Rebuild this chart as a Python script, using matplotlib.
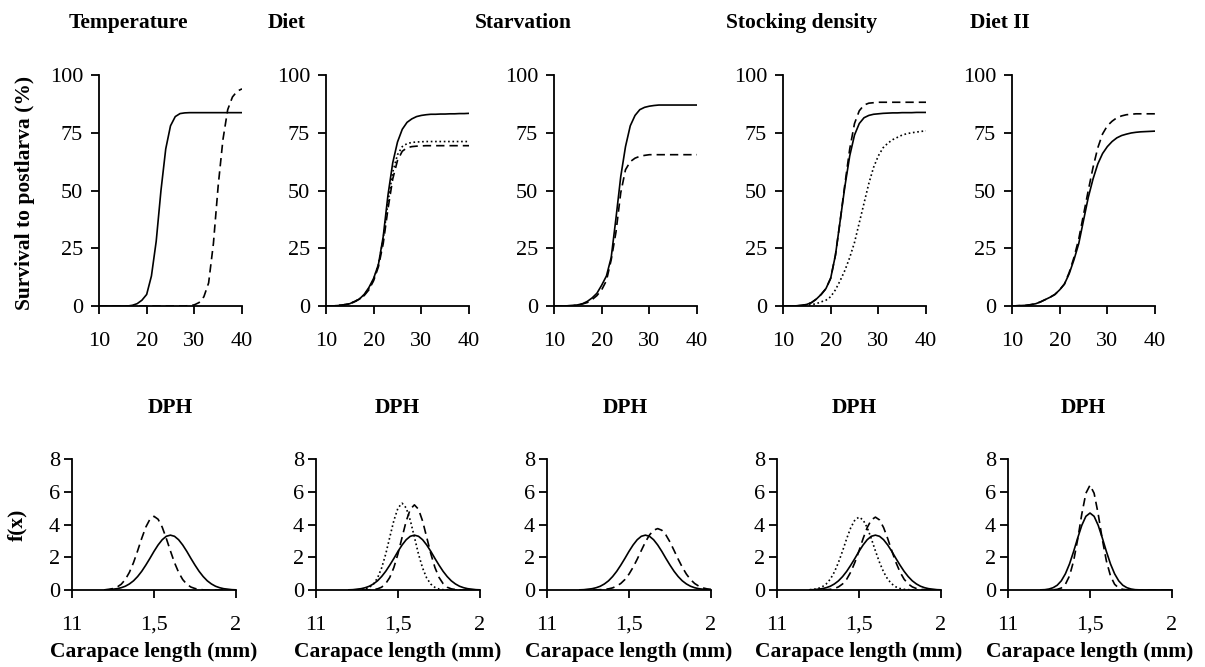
import matplotlib
matplotlib.use("Agg")
import matplotlib.pyplot as plt

plt.rcParams["font.family"] = ["Liberation Serif", "DejaVu Serif"]

FIG_W, FIG_H = 1205, 667
FONT_TICK = 16
FONT_LABEL = 15.5

panel_titles = ["Temperature", "Diet", "Starvation", "Stocking density", "Diet II"]

# --- survival to postlarva (%) vs days post hatch ---
dph = list(range(10, 41))

temp_solid = [0, 0, 0, 0, 0, 0, 0, 0.3, 1, 2.5, 5, 13, 28, 50, 68, 78, 82, 83.3, 83.6,
              83.7, 83.7, 83.7, 83.7, 83.7, 83.7, 83.7, 83.7, 83.7, 83.7, 83.7, 83.7]
temp_dash = [0, 0, 0, 0, 0, 0, 0, 0, 0, 0, 0, 0, 0, 0, 0, 0, 0, 0, 0,
             0.2, 0.5, 1.5, 4, 10, 27, 52, 72, 85, 90.5, 93, 94]

diet_solid = [0, 0, 0.1, 0.3, 0.6, 1, 2, 3, 5, 8, 12, 18, 30, 48, 62, 71, 76.5, 79.5, 81,
              82, 82.5, 82.8, 83, 83, 83.1, 83.1, 83.2, 83.2, 83.3, 83.3, 83.4]
diet_dash = [0, 0, 0.1, 0.3, 0.6, 1, 1.8, 3, 4.5, 7, 11, 17, 27, 42, 55, 63, 67, 68.5, 69,
             69.2, 69.3, 69.4, 69.4, 69.4, 69.4, 69.4, 69.4, 69.4, 69.4, 69.4, 69.4]
diet_dot = [0, 0, 0.1, 0.3, 0.6, 1, 1.9, 3, 4.8, 7.5, 11.5, 18, 29, 45, 58, 65.5, 69, 70.3,
            70.8, 71, 71.1, 71.2, 71.2, 71.2, 71.2, 71.2, 71.2, 71.2, 71.2, 71.2, 71.2]

starv_solid = [0, 0, 0, 0.1, 0.2, 0.5, 1, 2, 3.5, 5.5, 9, 13, 21, 38, 56, 69, 78, 82.5, 85,
               86, 86.5, 86.8, 87, 87, 87, 87, 87, 87, 87, 87, 87]
starv_dash = [0, 0, 0, 0.1, 0.2, 0.5, 0.9, 1.5, 2.8, 4.5, 7, 11, 20, 32, 49, 59, 62.5, 64,
              64.8, 65.2, 65.5, 65.5, 65.5, 65.5, 65.5, 65.5, 65.5, 65.5, 65.5, 65.5, 65.5]

stock_solid = [0, 0, 0, 0.1, 0.3, 0.7, 1.5, 3, 5, 7.5, 12, 22, 37, 52, 65, 74, 79, 81.5,
               82.5, 83, 83.2, 83.4, 83.5, 83.6, 83.6, 83.7, 83.7, 83.7, 83.8, 83.8, 83.8]
stock_dash = [0, 0, 0, 0.1, 0.3, 0.7, 1.5, 3, 5, 7.5, 12, 22, 37, 53, 68, 79, 84.5, 87,
              87.8, 88, 88.2, 88.2, 88.2, 88.2, 88.2, 88.2, 88.2, 88.2, 88.2, 88.2, 88.2]
stock_dot = [0, 0, 0, 0, 0.1, 0.3, 0.6, 1, 1.8, 2.5, 4, 7, 11, 15.5, 21, 27.5, 36, 44.5,
             53, 60, 65, 68.5, 70.5, 72, 73, 74, 74.6, 75, 75.3, 75.6, 75.8]

diet2_solid = [0, 0.1, 0.2, 0.3, 0.6, 1, 1.8, 2.8, 3.8, 5, 7, 9.5, 14, 20, 27, 37, 47, 55,
               61.5, 66, 69, 71.2, 72.8, 73.8, 74.4, 74.9, 75.2, 75.4, 75.5, 75.6, 75.7]
diet2_dash = [0, 0.1, 0.2, 0.3, 0.6, 1, 1.8, 2.8, 3.8, 5, 7, 9.5, 14.5, 21, 29, 39.5, 50,
              60, 68.5, 74.5, 78, 80, 81.5, 82.3, 82.8, 83, 83.2, 83.2, 83.2, 83.2, 83.2]

# --- carapace length density f(x) ---
carapace = [1.2 + 0.025 * i for i in range(33)]

temp_cl_solid = [0.01, 0.02, 0.05, 0.08, 0.14, 0.23, 0.37, 0.56, 0.82, 1.14, 1.52, 1.93,
                 2.36, 2.75, 3.07, 3.28, 3.35, 3.28, 3.07, 2.75, 2.36, 1.93, 1.52, 1.14,
                 0.82, 0.56, 0.37, 0.23, 0.14, 0.08, 0.05, 0.02, 0.01]
temp_cl_dash = [0.01, 0.04, 0.09, 0.18, 0.35, 0.64, 1.08, 1.67, 2.39, 3.15, 3.84, 4.32,
                4.5, 4.32, 3.84, 3.15, 2.39, 1.67, 1.08, 0.64, 0.35, 0.18, 0.09, 0.04,
                0.01, 0, 0, 0, 0, 0, 0, 0, 0]

diet_cl_solid = [0.01, 0.02, 0.05, 0.08, 0.14, 0.23, 0.37, 0.56, 0.82, 1.14, 1.52, 1.93,
                 2.36, 2.75, 3.07, 3.28, 3.35, 3.28, 3.07, 2.75, 2.36, 1.93, 1.52, 1.14,
                 0.82, 0.56, 0.37, 0.23, 0.14, 0.08, 0.05, 0.02, 0.01]
diet_cl_dash = [0, 0, 0, 0, 0, 0.01, 0.03, 0.07, 0.17, 0.39, 0.77, 1.38, 2.22, 3.22, 4.21,
                4.93, 5.2, 4.93, 4.21, 3.22, 2.22, 1.38, 0.77, 0.39, 0.17, 0.07, 0.03,
                0.01, 0, 0, 0, 0, 0]
diet_cl_dot = [0, 0, 0.01, 0.02, 0.06, 0.16, 0.36, 0.73, 1.34, 2.19, 3.23, 4.25, 5.01,
               5.3, 5.01, 4.25, 3.23, 2.19, 1.34, 0.73, 0.36, 0.16, 0.06, 0.02, 0.01,
               0, 0, 0, 0, 0, 0, 0, 0]

starv_cl_solid = [0.01, 0.02, 0.05, 0.08, 0.14, 0.23, 0.37, 0.56, 0.82, 1.14, 1.52, 1.93,
                  2.36, 2.75, 3.07, 3.28, 3.35, 3.28, 3.07, 2.75, 2.36, 1.93, 1.52, 1.14,
                  0.82, 0.56, 0.37, 0.23, 0.14, 0.08, 0.05, 0.02, 0.01]
starv_cl_dash = [0, 0, 0, 0, 0.01, 0.02, 0.04, 0.07, 0.13, 0.24, 0.40, 0.64, 0.97, 1.39,
                 1.88, 2.41, 2.93, 3.36, 3.65, 3.75, 3.65, 3.36, 2.93, 2.41, 1.88, 1.39,
                 0.97, 0.64, 0.40, 0.24, 0.13, 0.07, 0.04]

stock_cl_solid = [0.01, 0.02, 0.05, 0.08, 0.14, 0.23, 0.37, 0.56, 0.82, 1.14, 1.52, 1.93,
                  2.36, 2.75, 3.07, 3.28, 3.35, 3.28, 3.07, 2.75, 2.36, 1.93, 1.52, 1.14,
                  0.82, 0.56, 0.37, 0.23, 0.14, 0.08, 0.05, 0.02, 0.01]
stock_cl_dash = [0, 0, 0, 0.01, 0.02, 0.04, 0.09, 0.19, 0.37, 0.66, 1.10, 1.69, 2.39, 3.14,
                 3.81, 4.28, 4.45, 4.28, 3.81, 3.14, 2.39, 1.69, 1.10, 0.66, 0.37, 0.19,
                 0.09, 0.04, 0.02, 0.01, 0, 0, 0]
stock_cl_dot = [0.02, 0.04, 0.09, 0.19, 0.37, 0.66, 1.10, 1.69, 2.39, 3.14, 3.81, 4.28,
                4.45, 4.28, 3.81, 3.14, 2.39, 1.69, 1.10, 0.66, 0.37, 0.19, 0.09, 0.04,
                0.02, 0.01, 0, 0, 0, 0, 0, 0, 0]

diet2_cl_solid = [0.01, 0.02, 0.06, 0.14, 0.29, 0.56, 0.99, 1.59, 2.35, 3.18, 3.95, 4.50,
                  4.7, 4.50, 3.95, 3.18, 2.35, 1.59, 0.99, 0.56, 0.29, 0.14, 0.06, 0.02,
                  0.01, 0, 0, 0, 0, 0, 0, 0, 0]
diet2_cl_dash = [0, 0, 0, 0.01, 0.04, 0.12, 0.35, 0.86, 1.77, 3.10, 4.64, 5.91, 6.4, 5.91,
                 4.64, 3.10, 1.77, 0.86, 0.35, 0.12, 0.04, 0.01, 0, 0, 0, 0, 0, 0, 0, 0,
                 0, 0, 0]

survival_ticks = [0, 25, 50, 75, 100]
dph_ticks = [10, 20, 30, 40]
density_ticks = [0, 2, 4, 6, 8]
cl_ticks = [1, 1.5, 2]
cl_ticklabels = ["11", "1,5", "2"]

SOLID = "-"
DASH = (0, (5, 3))
DOT = (0, (1, 1.6))

top_series = [
    [(temp_solid, SOLID), (temp_dash, DASH)],
    [(diet_solid, SOLID), (diet_dash, DASH), (diet_dot, DOT)],
    [(starv_solid, SOLID), (starv_dash, DASH)],
    [(stock_solid, SOLID), (stock_dash, DASH), (stock_dot, DOT)],
    [(diet2_solid, SOLID), (diet2_dash, DASH)],
]
bottom_series = [
    [(temp_cl_solid, SOLID), (temp_cl_dash, DASH)],
    [(diet_cl_solid, SOLID), (diet_cl_dash, DASH), (diet_cl_dot, DOT)],
    [(starv_cl_solid, SOLID), (starv_cl_dash, DASH)],
    [(stock_cl_solid, SOLID), (stock_cl_dash, DASH), (stock_cl_dot, DOT)],
    [(diet2_cl_solid, SOLID), (diet2_cl_dash, DASH)],
]

# panel geometry in pixels (left edge, width)
top_lefts = [99, 326, 554, 783, 1012]
top_w = 143
top_y0, top_y1 = 306, 75
bot_lefts = [72, 316, 547, 777, 1008]
bot_w = 164
bot_y0, bot_y1 = 590, 459
title_x = [128, 287, 523, 802, 1000]


def px_rect(left, width, y0, y1):
    return [left / FIG_W, 1 - y0 / FIG_H, width / FIG_W, (y0 - y1) / FIG_H]


def style_axis(ax, xpad, ypad):
    for side in ("top", "right"):
        ax.spines[side].set_visible(False)
    for side in ("left", "bottom"):
        ax.spines[side].set_linewidth(1.3)
    ax.tick_params(axis="x", direction="out", length=6, width=1.3, pad=xpad,
                   labelsize=FONT_TICK)
    ax.tick_params(axis="y", direction="out", length=5.5, width=1.3, pad=ypad,
                   labelsize=FONT_TICK)


fig = plt.figure(figsize=(FIG_W / 100, FIG_H / 100), dpi=100)

for i in range(5):
    ax = fig.add_axes(px_rect(top_lefts[i], top_w, top_y0, top_y1))
    for values, ls in top_series[i]:
        ax.plot(dph, values, color="black", lw=1.2, linestyle=ls)
    ax.set_xlim(10, 40)
    ax.set_ylim(0, 100)
    ax.set_xticks(dph_ticks)
    ax.set_yticks(survival_ticks)
    style_axis(ax, 12.5, 6)

    cx = (top_lefts[i] + top_w / 2) / FIG_W
    fig.text(cx, 1 - 408 / FIG_H, "DPH", ha="center", va="center",
             fontsize=FONT_LABEL, fontweight="bold")
    fig.text(title_x[i] / FIG_W, 1 - 23 / FIG_H, panel_titles[i], ha="center",
             va="center", fontsize=FONT_LABEL, fontweight="bold")

    ax = fig.add_axes(px_rect(bot_lefts[i], bot_w, bot_y0, bot_y1))
    for values, ls in bottom_series[i]:
        ax.plot(carapace, values, color="black", lw=1.2, linestyle=ls)
    ax.set_xlim(1, 2)
    ax.set_ylim(0, 8)
    ax.set_xticks(cl_ticks)
    ax.set_xticklabels(cl_ticklabels)
    ax.set_yticks(density_ticks)
    style_axis(ax, 12.5, 3)

    cx = (bot_lefts[i] + bot_w / 2) / FIG_W
    fig.text(cx, 1 - 652 / FIG_H, "Carapace length (mm)", ha="center", va="center",
             fontsize=FONT_LABEL, fontweight="bold")

fig.text(25 / FIG_W, 1 - 193 / FIG_H, "Survival to postlarva (%)", rotation=90,
         ha="center", va="center", fontsize=FONT_LABEL, fontweight="bold")
fig.text(17 / FIG_W, 1 - 525 / FIG_H, "f(x)", rotation=90, ha="center", va="center",
         fontsize=FONT_LABEL, fontweight="bold")

fig.savefig("out.png", dpi=100)
